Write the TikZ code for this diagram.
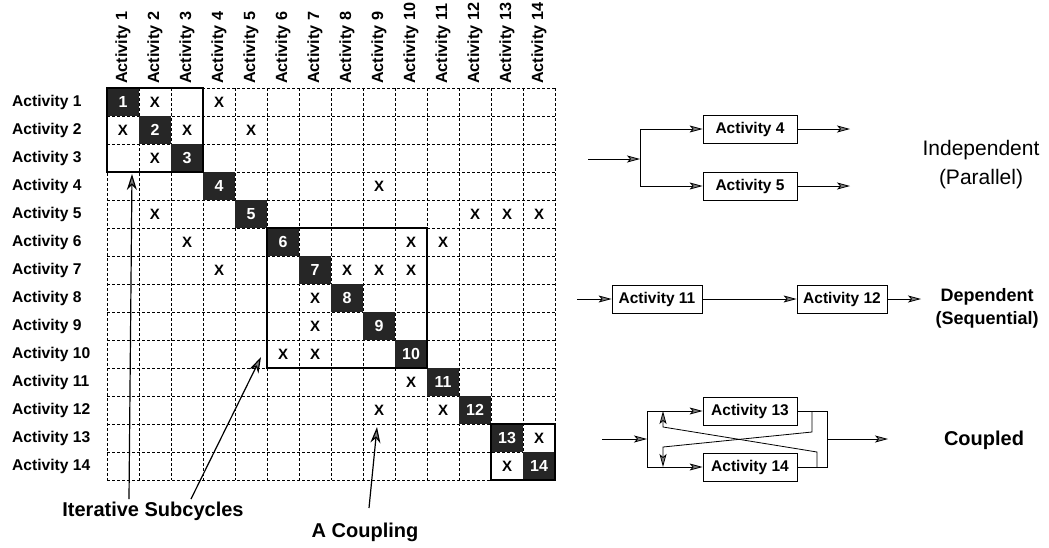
\documentclass[tikz,border=0pt]{standalone}
\usepackage{fontspec}
\setmainfont{Liberation Sans}
\usepackage{tikz}
\usetikzlibrary{arrows.meta}

\begin{document}
\begin{tikzpicture}[x=1pt,y=-1pt,
  grid/.style={densely dashed,line width=0.8pt},
  lab/.style={font=\bfseries\fontsize{15.6}{18}\selectfont,inner sep=0pt},
  diag/.style={fill=black!85,text=white,minimum width=32pt,minimum height=28pt,inner sep=0pt,font=\bfseries\fontsize{16}{18}\selectfont},
  xmark/.style={inner sep=0pt,font=\bfseries\fontsize{15}{16}\selectfont},
  block/.style={line width=1.4pt},
  ann/.style={line width=1.2pt,-{Stealth[length=16pt,width=10pt,inset=5pt,fill=black!50]}},
  note/.style={font=\bfseries\fontsize{20}{23}\selectfont},
  act/.style={draw,line width=0.8pt,minimum width=94pt,minimum height=28pt,inner sep=0pt,font=\bfseries\fontsize{15.5}{18}\selectfont},
  flow/.style={line width=0.8pt,-{Stealth[length=13pt,width=7pt,inset=3pt,fill=black!50]}},
  kind/.style={align=center,font=\bfseries\fontsize{18}{23}\selectfont}]
\useasboundingbox (0,0) rectangle (1049,547);

% matrix grid
\foreach \i in {0,...,14} {
  \draw[grid] (107,88+28*\i) -- (555,88+28*\i);
  \draw[grid] (107+32*\i,88) -- (107+32*\i,480);
}

% labels
\foreach \i in {1,...,14} {
  \node[lab,anchor=west] (row\i) at (12,74+28*\i) {Activity \i};
  \node[lab,font=\bfseries\fontsize{16.2}{18}\selectfont,rotate=90,anchor=west] (col\i) at (91+32*\i,84) {Activity \i};
  \node[diag] (d\i) at (91+32*\i,74+28*\i) {\i};
}

\foreach \r/\c in {1/2,1/4,2/1,2/3,2/5,3/2,4/9,5/2,5/12,5/13,5/14,6/3,6/10,6/11,
  7/4,7/8,7/9,7/10,8/7,9/7,10/6,10/7,11/10,12/9,12/11,13/14,14/13}
  \node[xmark] (x\r-\c) at (91+32*\c,74+28*\r) {X};

% blocks
\draw[block] (107,88) rectangle (203,172);
\draw[block] (267,228) rectangle (427,368);
\draw[block] (491,424) rectangle (555,480);

% notes below
\node[note] (iter) at (153,511) {Iterative Subcycles};
\node[note] (coup) at (365,532) {A Coupling};
\coordinate (s1) at (129,499);
\coordinate (t1) at (132,174);
\coordinate (s2) at (191,499);
\coordinate (t2) at (261,357);
\coordinate (s3) at (369,508);
\coordinate (t3) at (377,427);
\draw[ann] (s1) -- (t1);
\draw[ann] (s2) -- (t2);
\draw[ann] (s3) -- (t3);

% parallel
\coordinate (in1) at (588,159);
\coordinate (j1) at (640,159);
\node[act] (a4) at (750,129) {Activity 4};
\node[act] (a5) at (750,186) {Activity 5};
\coordinate (o4) at (850,129);
\coordinate (o5) at (850,186);
\draw[flow] (in1) -- (j1);
\draw[flow] (j1) |- (a4);
\draw[flow] (j1) |- (a5);
\draw[flow] (a4) -- (o4);
\draw[flow] (a5) -- (o5);
\node[kind,font=\fontsize{21}{29}\selectfont] (indep) at (981,165) {Independent\\(Parallel)};

% sequential
\coordinate (in2) at (577,299);
\node[act,minimum width=90pt] (a11) at (657,299) {Activity 11};
\node[act,minimum width=90pt] (a12) at (842,299) {Activity 12};
\coordinate (o12) at (921,299);
\draw[flow] (in2) -- (a11);
\draw[flow] (a11) -- (a12);
\draw[flow] (a12) -- (o12);
\node[kind] (dep) at (987,308) {Dependent\\(Sequential)};

% coupled
\coordinate (in3) at (602,439);
\coordinate (j3) at (647,439);
\node[act] (a13) at (750,411) {Activity 13};
\node[act] (a14) at (750,467) {Activity 14};
\coordinate (m3) at (827,439);
\coordinate (o3) at (888,439);
\coordinate (fb13) at (812,411);
\coordinate (fb14) at (817,467);
\draw[flow] (in3) -- (j3);
\draw[flow] (j3) |- (a13);
\draw[flow] (j3) |- (a14);
\draw[line width=0.8pt] (a13.east) -| (m3);
\draw[line width=0.8pt] (a14.east) -| (m3);
\draw[flow] (m3) -- (o3);
\draw[flow] (fb13) -- (812,432) -- (663,447) -- (663,467);
\draw[flow] (fb14) -- (817,452) -- (663,427) -- (663,411);
\node[kind,font=\bfseries\fontsize{20}{23}\selectfont] (cpl) at (984,440) {Coupled};
\end{tikzpicture}
\end{document}
